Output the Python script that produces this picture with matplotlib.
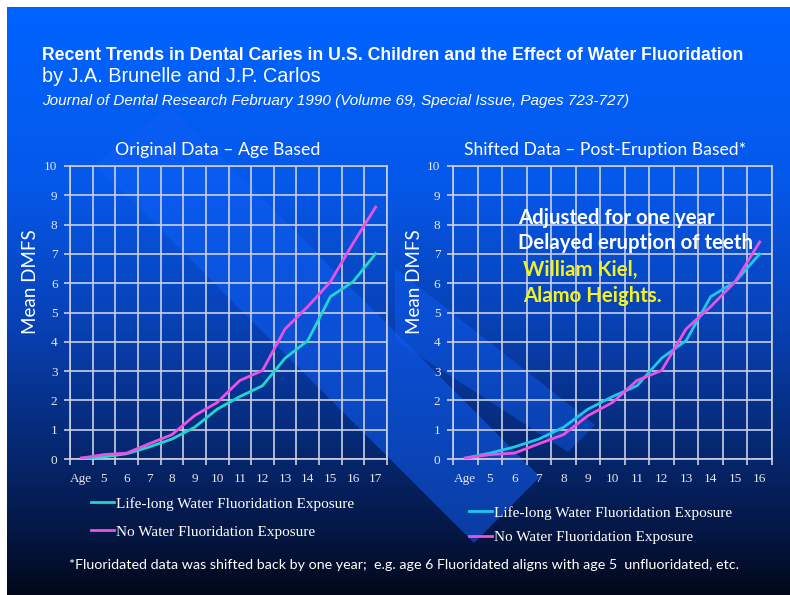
import numpy as np
import matplotlib
matplotlib.use('Agg')
import matplotlib.pyplot as plt
from matplotlib import font_manager
from matplotlib.patches import Polygon
from matplotlib.colors import LinearSegmentedColormap

W, H = 790, 595

# values (Mean DMFS)
ages_orig = ['Age', '5', '6', '7', '8', '9', '10', '11', '12', '13', '14', '15', '16', '17']
fluor_orig = [0.03, 0.07, 0.18, 0.41, 0.68, 1.08, 1.70, 2.13, 2.50, 3.44, 4.04, 5.54, 6.05, 7.01]
nofluor_orig = [0.03, 0.15, 0.20, 0.52, 0.83, 1.48, 1.93, 2.68, 3.02, 4.44, 5.20, 6.05, 7.36, 8.60]

ages_shift = ['Age', '5', '6', '7', '8', '9', '10', '11', '12', '13', '14', '15', '16']
fluor_shift = [0.03, 0.20, 0.41, 0.68, 1.08, 1.70, 2.13, 2.50, 3.44, 4.04, 5.54, 6.05, 7.00]
nofluor_shift = [0.03, 0.15, 0.20, 0.52, 0.83, 1.48, 1.93, 2.68, 3.02, 4.44, 5.20, 6.05, 7.41]

legend_labels = ['Life-long Water Fluoridation Exposure', 'No Water Fluoridation Exposure']


def fx(x):
    return x / W


def fy(y):
    return 1 - y / H


installed = {f.name for f in font_manager.fontManager.ttflist}
narrow = 'Liberation Sans Narrow' if 'Liberation Sans Narrow' in installed else 'Liberation Sans'
title_size = 13 if narrow == 'Liberation Sans Narrow' else 12.7
serif = 'Liberation Serif'
calibri = 'Lato'

grid_c = '#c9cfe0'
tick_c = '#e6e8f0'
magenta = '#ea52e2'

fig = plt.figure(figsize=(7.9, 5.95), dpi=100)
fig.patch.set_facecolor('white')

# gradient background (white strip only on top and left)
bg = fig.add_axes([fx(7), 0, 1 - fx(7), fy(7)], zorder=-3)
cmap = LinearSegmentedColormap.from_list('bg', [(0, '#0064ff'), (0.3, '#0558ea'),
                                                (0.55, '#0840b2'), (0.75, '#062872'),
                                                (0.9, '#041642'), (1, '#02081a')])
bg.imshow(np.linspace(0, 1, 256).reshape(-1, 1), aspect='auto', cmap=cmap,
          extent=[0, 1, 0, 1], origin='upper')
bg.axis('off')

# decorative diagonal bands (only show up where the background gets dark)
bands = [
    ([(95, 164), (170, 106), (540, 477), (474, 543)], '#0f5ef5', 0.55),
    ([(395, 268), (595, 425), (568, 452), (395, 340)], '#0f5ef5', 0.45),
]
for pts, col, a in bands:
    fig.patches.append(Polygon([(fx(x), fy(y)) for x, y in pts], closed=True,
                               transform=fig.transFigure, facecolor=col,
                               edgecolor='none', alpha=a, zorder=-2))


def panel(rect, labels, fluor, nofluor, cyan):
    ax = fig.add_axes(rect, zorder=1)
    ax.patch.set_alpha(0)
    x = np.arange(len(labels))
    ax.plot(x, fluor, color=cyan, lw=2, label=legend_labels[0], zorder=3)
    ax.plot(x, nofluor, color=magenta, lw=2, label=legend_labels[1], zorder=3)
    ax.set_xlim(-0.5, len(labels) - 0.5)
    ax.set_ylim(0, 10)
    ax.set_xticks(x)
    ax.set_xticklabels(labels)
    ax.set_xticks(np.arange(len(labels) + 1) - 0.5, minor=True)
    ax.set_yticks(range(11))
    ax.grid(which='minor', axis='x', color=grid_c, lw=1.2)
    ax.grid(which='major', axis='y', color=grid_c, lw=1.2)
    ax.tick_params(axis='x', which='major', length=0, pad=10)
    ax.tick_params(axis='x', which='minor', length=4, width=1.2, color=grid_c)
    ax.tick_params(axis='y', length=4, width=1.2, color=grid_c, pad=5)
    for lab in ax.get_xticklabels() + ax.get_yticklabels():
        lab.set_fontfamily(serif)
        lab.set_fontsize(9.5)
        lab.set_color(tick_c)
    for s in ax.spines.values():
        s.set_color(grid_c)
        s.set_linewidth(1.2)
    return ax


ax1 = panel([fx(70), fy(459), fx(387) - fx(70), fy(166) - fy(459)],
            ages_orig, fluor_orig, nofluor_orig, '#22d6cc')
ax2 = panel([fx(453), fy(459), fx(772) - fx(453), fy(166) - fy(459)],
            ages_shift, fluor_shift, nofluor_shift, '#1fc8ea')

for ax, x0, y0, sp in [(ax1, 91, 497, 0.92), (ax2, 469, 506, 0.68)]:
    ax.legend(loc='upper left', bbox_to_anchor=(fx(x0), fy(y0)), bbox_transform=fig.transFigure,
              frameon=False, borderpad=0, borderaxespad=0, handlelength=1.5,
              handletextpad=0.15, labelspacing=sp, labelcolor='white',
              prop={'family': serif, 'size': 11})

# headings
fig.text(fx(42), fy(55), 'Recent Trends in Dental Caries in U.S. Children and the Effect of Water Fluoridation',
         family=narrow, weight='bold', size=title_size, color='white', ha='left', va='center')
fig.text(fx(42), fy(77), 'by J.A. Brunelle and J.P. Carlos',
         family='Liberation Sans', size=14.3, color='white', ha='left', va='center')
fig.text(fx(42), fy(101), 'Journal of Dental Research February 1990 (Volume 69, Special Issue, Pages 723-727)',
         family='Liberation Sans', style='italic', size=11, color='white', ha='left', va='center')

fig.text(fx(218), fy(150), 'Original Data \u2013 Age Based', family=calibri, size=12.8,
         color='white', ha='center', va='center')
fig.text(fx(605), fy(150), 'Shifted Data \u2013 Post-Eruption Based*', family=calibri, size=12.6,
         color='white', ha='center', va='center')

for xp in (30, 414):
    fig.text(fx(xp), fy(282), 'Mean DMFS', family=calibri, size=13.5, color='white',
             rotation=90, ha='center', va='center')

note = dict(family=calibri, weight='bold', size=14.7, ha='left', va='center')
fig.text(fx(518), fy(218), 'Adjusted for one year', color='white', **note)
fig.text(fx(518), fy(243), 'Delayed eruption of teeth', color='white', **note)
fig.text(fx(523), fy(270), 'William Kiel,', color='#f4f21e', **note)
fig.text(fx(523), fy(296), 'Alamo Heights.', color='#f4f21e', **note)

fig.text(fx(404), fy(565), '*Fluoridated data was shifted back by one year;  e.g. age 6 Fluoridated '
         'aligns with age 5  unfluoridated, etc.', family=calibri, size=10.3, color='white',
         ha='center', va='center')

fig.savefig('out.png', dpi=100, facecolor=fig.get_facecolor())
